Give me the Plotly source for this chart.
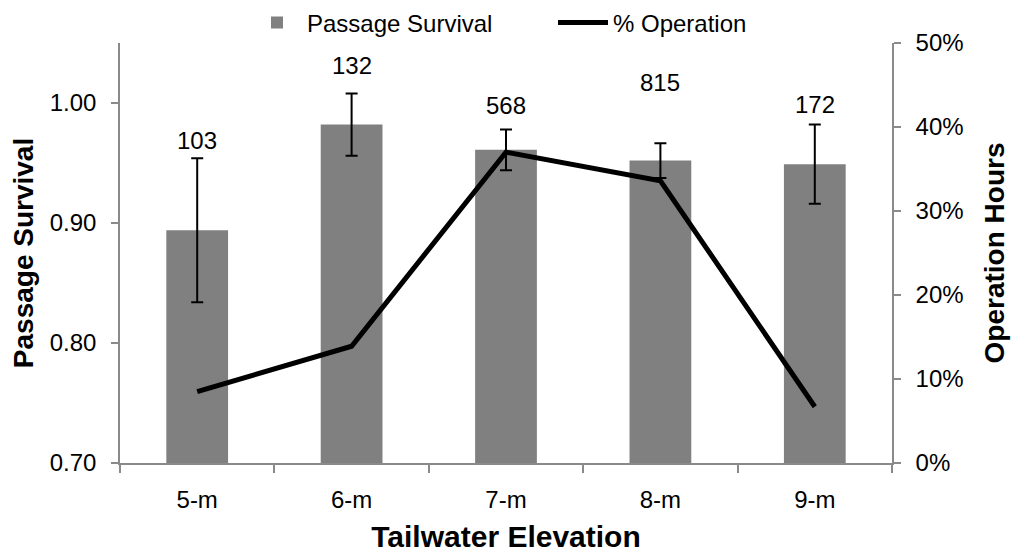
import plotly.graph_objects as go

categories = ["5-m", "6-m", "7-m", "8-m", "9-m"]
survival = [0.894, 0.982, 0.961, 0.952, 0.949]
survival_err = [0.060, 0.026, 0.017, 0.0145, 0.033]
operation = [0.085, 0.139, 0.370, 0.336, 0.067]
counts = ["103", "132", "568", "815", "172"]
count_y = [0.9686, 1.031, 0.9977, 1.017, 0.9986]

FONT = "Liberation Sans, Arial, sans-serif"
AXIS_COLOR = "#8a8a8a"

fig = go.Figure()
fig.add_trace(go.Bar(
    x=categories, y=survival, name="Passage Survival",
    marker=dict(color="#808080", line=dict(width=0)),
    error_y=dict(type="data", array=survival_err, visible=True,
                 color="black", thickness=2, width=6),
    yaxis="y",
))
fig.add_trace(go.Scatter(
    x=categories, y=operation, name="% Operation", mode="lines",
    line=dict(color="black", width=5), yaxis="y2",
))

for c, t, yy in zip(categories, counts, count_y):
    fig.add_annotation(x=c, y=yy, xref="x", yref="y", text=t, showarrow=False,
                       font=dict(size=24, color="black", family=FONT))

fig.update_layout(
    width=1014, height=553,
    margin=dict(l=120, r=122, t=43, b=90, autoexpand=False),
    paper_bgcolor="white", plot_bgcolor="white",
    font=dict(family=FONT, size=24, color="black"),
    bargap=0.6,
    showlegend=True,
    legend=dict(orientation="h", x=0.1645, xanchor="left", y=1.048, yanchor="middle",
                font=dict(size=24), bgcolor="rgba(0,0,0,0)", itemwidth=50,
                traceorder="normal", entrywidth=241),
    xaxis=dict(
        type="category", showline=True, linecolor=AXIS_COLOR, linewidth=1.5,
        ticks="outside", tickson="boundaries", ticklen=8, tickcolor=AXIS_COLOR, tickwidth=1.5,
        ticklabelstandoff=14, showgrid=False, zeroline=False,
        title=dict(text="<b>Tailwater Elevation</b>", font=dict(size=30), standoff=20),
    ),
    yaxis=dict(
        range=[0.70, 1.05], tickvals=[0.70, 0.80, 0.90, 1.00], tickformat=".2f",
        showline=True, linecolor=AXIS_COLOR, linewidth=1.5,
        ticks="outside", ticklen=7, tickcolor=AXIS_COLOR, tickwidth=1.5,
        ticklabelstandoff=10, showgrid=False, zeroline=False,
        title=dict(text="<b>Passage Survival</b>", font=dict(size=28), standoff=8),
    ),
    yaxis2=dict(
        range=[0, 0.5], tickvals=[0, 0.1, 0.2, 0.3, 0.4, 0.5], tickformat=".0%",
        overlaying="y", side="right",
        showline=True, linecolor=AXIS_COLOR, linewidth=1.5,
        ticks="outside", ticklen=7, tickcolor=AXIS_COLOR, tickwidth=1.5,
        ticklabelstandoff=10, showgrid=False, zeroline=False,
        title=dict(text="<b>Operation Hours</b>", font=dict(size=28), standoff=22),
    ),
)

fig.write_html("out.html")
